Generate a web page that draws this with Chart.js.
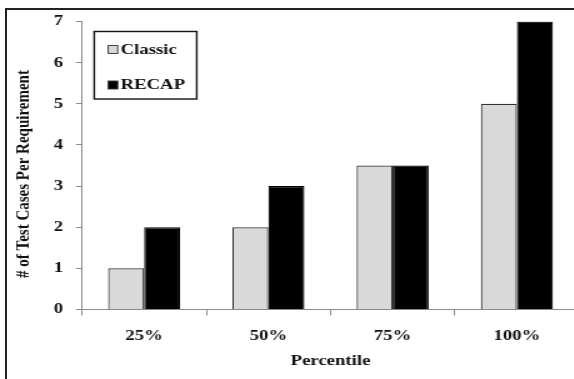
<!DOCTYPE html>
<html><head><meta charset="utf-8">
<script src="https://cdn.jsdelivr.net/npm/chart.js@4"></script>
<style>
html,body{margin:0;padding:0;background:#fff;overflow:hidden;width:574px;height:379px;}
#frame{position:absolute;left:5px;top:8px;width:700px;height:500px;border:2px solid #222;}
#wrap{position:absolute;left:0;top:0;width:480px;height:379px;transform:scaleX(1.25);transform-origin:0 0;}
canvas{display:block;}
</style></head><body>
<div id="frame"></div>
<div id="wrap"><canvas id="c" width="480" height="379" style="width:480px;height:379px"></canvas></div>
<script>
const categories = ['25%', '50%', '75%', '100%'];
const classicValues = [1, 2, 3.5, 5];
const recapValues = [2, 3, 3.5, 7];
const seriesNames = ['Classic', 'RECAP'];
const yMin = 0, yMax = 7, yStep = 1;
const xTitle = 'Percentile';
const yTitle = '# of Test Cases Per Requirement';

const FONT = '"Liberation Serif", "Times New Roman", serif';
const TEXT = '#111';
const AXIS = '#8a8a8a';
const fills = ['#d9d9d9', '#000000'];

const legendBox = {
  id: 'legendBox',
  afterDraw(chart) {
    const ctx = chart.ctx;
    ctx.save();
    ctx.lineWidth = 1.4;
    ctx.strokeStyle = '#111';
    ctx.strokeRect(75.4, 31.5, 82, 67.5);
    const rows = [49.5, 85];
    chart.data.datasets.forEach((ds, i) => {
      const y = rows[i];
      ctx.fillStyle = ds.backgroundColor;
      ctx.fillRect(86.6, y - 4, 7.6, 8);
      ctx.lineWidth = 0.9;
      ctx.strokeStyle = '#333';
      ctx.strokeRect(86.6, y - 4, 7.6, 8);
      ctx.fillStyle = TEXT;
      ctx.font = 'bold 15px ' + FONT;
      ctx.textAlign = 'left';
      ctx.textBaseline = 'middle';
      ctx.fillText(ds.label, 96.4, y + 0.5);
    });
    ctx.restore();
  }
};

const yTitlePlugin = {
  id: 'yTitlePlugin',
  afterDraw(chart) {
    const ctx = chart.ctx;
    ctx.save();
    ctx.translate(23.2, 174);
    ctx.rotate(-Math.PI / 2);
    ctx.fillStyle = TEXT;
    ctx.font = 'bold 15px ' + FONT;
    ctx.textAlign = 'center';
    ctx.textBaseline = 'alphabetic';
    ctx.fillText(yTitle, 0, 0);
    ctx.restore();
  }
};

new Chart(document.getElementById('c'), {
  type: 'bar',
  data: {
    labels: categories,
    datasets: [
      { label: seriesNames[0], data: classicValues, backgroundColor: fills[0], borderColor: '#333', borderWidth: 1.2 },
      { label: seriesNames[1], data: recapValues, backgroundColor: fills[1], borderColor: '#000', borderWidth: 1.2 }
    ]
  },
  options: {
    responsive: false,
    devicePixelRatio: 1,
    animation: false,
    events: [],
    layout: { padding: { left: 0, right: 16.8, top: 21.5, bottom: 0 } },
    datasets: { bar: { categoryPercentage: 0.58, barPercentage: 1.0 } },
    plugins: { legend: { display: false }, tooltip: { enabled: false } },
    scales: {
      x: {
        offset: true,
        grid: { display: true, offset: true, drawOnChartArea: false, drawTicks: true, tickLength: 6, color: AXIS, lineWidth: 1 },
        border: { display: true, color: AXIS, width: 1 },
        ticks: { color: TEXT, font: { family: FONT, size: 15, weight: 'bold' }, padding: 12, maxRotation: 0 },
        title: { display: true, text: xTitle, color: TEXT, font: { family: FONT, size: 15, weight: 'bold' }, padding: { top: 0, bottom: 9 } },
        afterFit(s) { s.height = 69.5; }
      },
      y: {
        min: yMin, max: yMax,
        grid: { display: true, drawOnChartArea: false, drawTicks: true, tickLength: 4.8, color: AXIS, lineWidth: 1 },
        border: { display: true, color: AXIS, width: 1 },
        ticks: { stepSize: yStep, color: TEXT, font: { family: FONT, size: 15, weight: 'bold' }, padding: 10.4 },
        afterFit(s) { s.width = 65.6; }
      }
    }
  },
  plugins: [legendBox, yTitlePlugin]
});
</script>
</body></html>
